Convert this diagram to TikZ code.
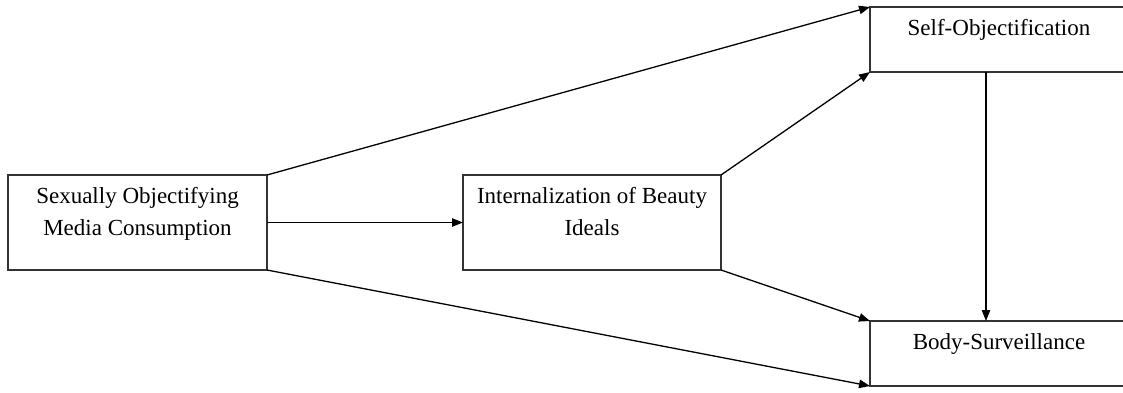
\documentclass[tikz,border=0pt]{standalone}
\usepackage{fontspec}
\setmainfont{Liberation Serif}
\usetikzlibrary{arrows.meta, positioning}
\tikzset{
    varbox/.style={rectangle, draw=black!80, line width=0.75pt, inner sep=0pt, outer sep=0pt},
    vartext/.style={anchor=north, align=center, inner sep=0pt, font=\fontsize{11.5}{16}\selectfont},
    path/.style={-{Triangle[length=5.5pt, width=4.2pt]}, line width=0.65pt, black}
}
\begin{document}
\begin{tikzpicture}[x=0.5pt, y=-0.5pt]
        \useasboundingbox (0,0) rectangle (1123,392);
        % Boxes
        \node[varbox, minimum width=129.5pt, minimum height=47.5pt] (media) at (137.5, 222.5) {};
        \node[varbox, minimum width=129pt, minimum height=47.5pt] (intern) at (592, 222.5) {};
        \node[varbox, minimum width=129pt, minimum height=32.5pt] (selfobj) at (999, 39.5) {};
        \node[varbox, minimum width=129pt, minimum height=32.5pt] (surv) at (999, 353.5) {};
        % Labels
        \node[vartext, below=6pt of media.north] (mediatext) {Sexually Objectifying\\Media Consumption};
        \node[vartext, below=6pt of intern.north] (interntext) {Internalization of Beauty\\Ideals};
        \node[vartext, below=6pt of selfobj.north] (selfobjtext) {Self-Objectification};
        \node[vartext, below=6pt of surv.north] (survtext) {Body-Surveillance};
        % Paths
        \draw[path] (media.north east) -- (selfobj.north west);
        \draw[path] (media.east) -- (intern.west);
        \draw[path] (media.south east) -- (surv.south west);
        \draw[path] (intern.north east) -- (selfobj.south west);
        \draw[path] (intern.south east) -- (surv.north west);
        \draw[path] ([xshift=58pt]selfobj.south west) -- ([xshift=58pt]surv.north west);
\end{tikzpicture}
\end{document}
